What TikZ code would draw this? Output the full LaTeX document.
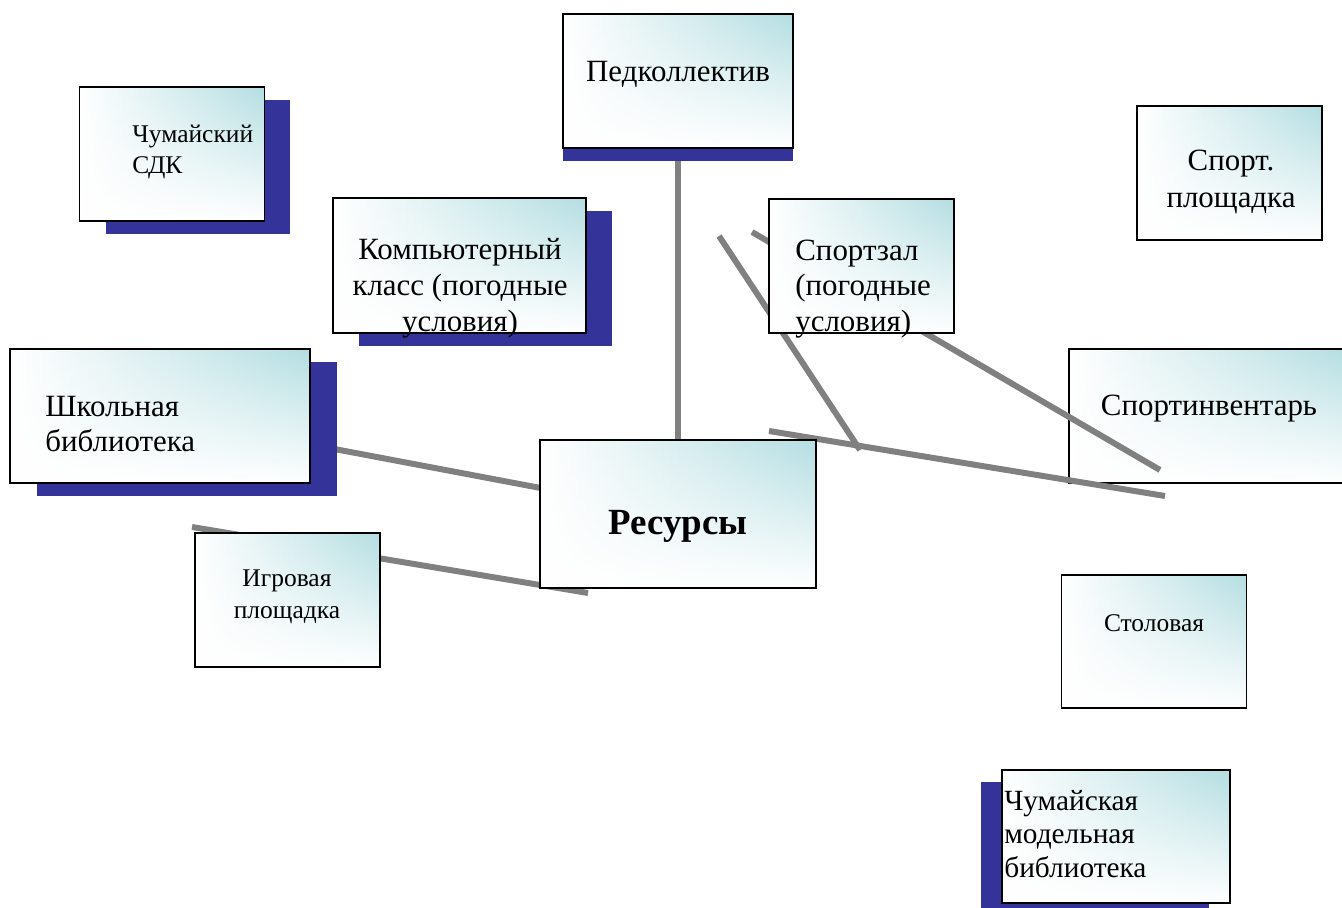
\documentclass[tikz,border=0pt]{standalone}
\usepackage{fontspec}
\setmainfont{Liberation Serif}
\usetikzlibrary{shadows,backgrounds,fadings}
\usepackage{xcolor}
\definecolor{boxteal}{RGB}{180,222,226}
\definecolor{shadowblue}{RGB}{51,51,153}
\definecolor{linkgray}{RGB}{128,128,128}
\tikzfading[name=fadeup, bottom color=transparent!0, middle color=transparent!80, top color=transparent!100]

\begin{document}
\begin{tikzpicture}[
            x=0.02cm, y=-0.02cm,
            every node/.style={font=\fontsize{17.6}{20.4}\selectfont, inner sep=0pt},
            card/.style={draw, line width=1.1pt, rectangle, left color=white, right color=boxteal, minimum width=3.7cm, minimum height=2.68cm,
                path picture={\fill[white, path fading=fadeup] (path picture bounding box.south west) rectangle (path picture bounding box.north east);}},
            shad/.style 2 args={drop shadow={shadow xshift=#1, shadow yshift=#2, fill=shadowblue, opacity=1}},
            small/.style={font=\fontsize{14.5}{18}\selectfont},
            link/.style={draw=linkgray, line width=3.4pt}
        ]
            \useasboundingbox (0,0) rectangle (1342,908);

            % boxes
            \node[card, shad={0cm}{-0.26cm}, minimum width=4.6cm] (ped) at (678,81) {};
            \node[card, shad={0.52cm}{-0.26cm}] (sdk) at (172,154) {};
            \node[card, shad={0.52cm}{-0.26cm}, minimum width=5.06cm, minimum height=2.7cm] (comp) at (459.5,265.5) {};
            \node[card] (gym) at (861.5,266) {};
            \node[card] (field) at (1229.5,173) {};
            \node[card, shad={0.54cm}{-0.26cm}, minimum width=6cm] (lib) at (160,416) {};
            \node[card, minimum width=5.52cm, minimum height=2.96cm] (res) at (678,514) {};
            \node[card] (play) at (287.5,600) {};
            \node[card, minimum height=2.66cm] (dine) at (1154,641.5) {};
            \node[card, shad={-0.42cm}{-0.24cm}, minimum width=4.56cm, minimum height=2.66cm] (mlib) at (1116,836.5) {};

            % texts
            \node (ped-t) at (678,74) {Педколлектив};
            \node[small, anchor=west, align=left] (sdk-t) at (132,152) {Чумайский\\СДК};
            \node[align=center] (comp-t) at (460,288.5) {Компьютерный\\класс (погодные\\условия)};
            \node[anchor=west, align=left] (gym-t) at (795,289) {Спортзал\\(погодные\\условия)};
            \node[align=center, font=\fontsize{17.6}{21}\selectfont] (field-t) at (1231,182) {Спорт.\\площадка};
            \node[anchor=west, align=left] (lib-t) at (45,424) {Школьная\\библиотека};
            \node[font=\fontsize{21}{25}\selectfont\bfseries] (res-t) at (678,526) {Ресурсы};
            \node[small, align=center] (play-t) at (287,597) {Игровая\\площадка};
            \node[small] (dine-t) at (1154,623) {Столовая};
            \node[anchor=west, align=left, font=\fontsize{16.7}{19.2}\selectfont] (mlib-t) at (1004,834) {Чумайская\\модельная\\библиотека};

            % connectors
            \begin{pgfonlayer}{background}
                \node[card, minimum width=5.6cm] (inv) at (1209,416) {};
                \node (inv-t) at (1209,409) {Спортинвентарь};
                \coordinate (a1) at (719,236);
                \coordinate (a2) at (860,450);
                \coordinate (b1) at (752,232);
                \coordinate (b2) at (1160,470);
                \coordinate (c1) at (769,431);
                \coordinate (c2) at (1165,496);
                \coordinate (d1) at (192,527);
                \coordinate (d2) at (588,593);
                \draw[link] (ped.center) -- (res.center);
                \draw[link] (lib.center) -- (res.center);
                \draw[link] (a1) -- (a2);
                \draw[link] (b1) -- (b2);
                \draw[link] (c1) -- (c2);
                \draw[link] (d1) -- (d2);
            \end{pgfonlayer}
        \end{tikzpicture}
\end{document}
